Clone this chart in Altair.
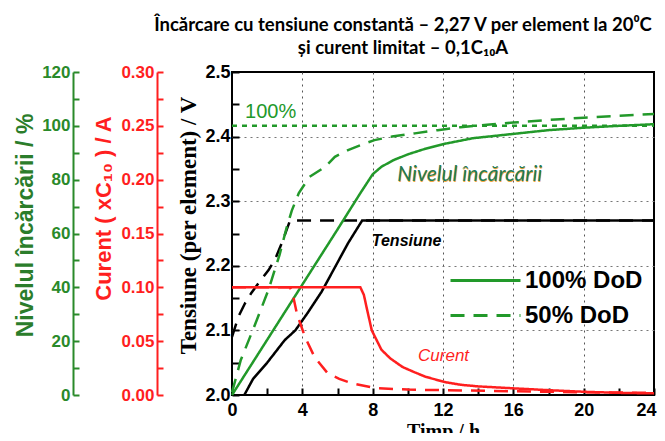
import altair as alt
import pandas as pd

# ---------------- data ----------------
# Voltage per element (V)
v100_t = [0.7, 1.2, 2.0, 3.0, 3.6, 4.3, 5.1, 5.9, 6.6, 7.4, 24]
v100_v = [2.0, 2.025, 2.05, 2.085, 2.10, 2.127, 2.16, 2.20, 2.235, 2.27, 2.27]
v50_t = [0.0, 0.36, 0.74, 1.1, 1.5, 2.07, 2.45, 2.83, 3.3, 24]
v50_v = [2.09, 2.121, 2.142, 2.158, 2.173, 2.193, 2.21, 2.235, 2.27, 2.27]

# Charge level (%)
c100_t = [0, 2, 4, 6, 7.3, 7.7, 8.0, 8.5, 9.2, 10, 11, 12, 13.7, 16, 18, 20, 22, 24]
c100_v = [0, 20.5, 41, 61.5, 75, 79, 82, 84.8, 87.3, 89.4, 91.5, 93.2, 95.4, 97, 98.4, 99.3, 100, 100.6]
c50_t = [0, 0.5, 1.3, 2.07, 2.7, 3.1, 3.4, 3.8, 4.4, 5.3, 5.85, 6.6, 7.3, 8.1, 9.1, 10.4, 11.7, 13, 14.5, 16, 18, 20, 22, 24]
c50_v = [1, 13, 26, 39, 52, 62, 68.5, 75, 81, 84.8, 88.5, 91, 92.8, 94.7, 96, 97.2, 98.4, 99.5, 100.4, 101.2, 102.2, 103, 103.7, 104.4]
full_t = [0, 24]
full_v = [100, 100]

# Current (x C10, A)
i100_t = [0, 7.3, 7.5, 7.7, 7.95, 8.5, 9.0, 9.7, 10.4, 11, 12.1, 13, 14, 16, 18, 20, 22, 24]
i100_v = [0.1, 0.1, 0.093, 0.078, 0.060, 0.042, 0.034, 0.026, 0.021, 0.017, 0.012, 0.0095, 0.008, 0.0062, 0.0045, 0.003, 0.002, 0.0015]
i50_t = [0, 3.3, 3.45, 3.7, 4.15, 4.7, 5.45, 6.1, 6.8, 8.1, 10, 12, 16, 20, 24]
i50_v = [0.1, 0.1, 0.094, 0.075, 0.054, 0.035, 0.020, 0.015, 0.011, 0.0065, 0.005, 0.0045, 0.0035, 0.0025, 0.002]

dod_labels = ["100% DoD", "50% DoD"]

# annotations (data units)
ann_volt = {"t": [7.95], "val": [2.238], "label": ["Tensiune"]}
ann_full = {"t": [0.74], "val": [105], "label": ["100%"]}
ann_charge = {"t": [9.4], "val": [81.7], "label": ["Nivelul încărcării"]}
ann_curr = {"t": [10.58], "val": [0.036], "label": ["Curent"]}

title_lines = ["Încărcare cu tensiune constantă – 2,27 V per element la 20⁰C",
               "și curent limitat – 0,1C₁₀A"]

# ---------------- styling ----------------
GREEN = "#22992a"
GREEN_TXT = "#2a8a2a"
RED = "#ff1f1f"
SANS = "'Liberation Sans', Arial, sans-serif"
SERIF = "'Liberation Serif', 'Times New Roman', serif"


def mk(ts, vs, dod):
    return pd.DataFrame({"t": ts, "val": vs, "DoD": dod})


volt_df = pd.concat([mk(v100_t, v100_v, dod_labels[0]), mk(v50_t, v50_v, dod_labels[1])])
charge_df = pd.concat([mk(c100_t, c100_v, dod_labels[0]), mk(c50_t, c50_v, dod_labels[1])])
curr_df = pd.concat([mk(i100_t, i100_v, dod_labels[0]), mk(i50_t, i50_v, dod_labels[1])])
full_df = pd.DataFrame({"t": full_t, "val": full_v})

x_enc = alt.X(
    "t:Q",
    scale=alt.Scale(domain=[0, 24], nice=False),
    axis=alt.Axis(
        title="Timp / h", orient="bottom", offset=-7, domain=False,
        values=list(range(0, 25, 2)),
        labelExpr="datum.value % 4 == 0 ? datum.label : ''",
        labelAlign={"condition": {"test": "datum.value == 24", "value": "right"}, "value": "center"},
        labelOffset={"condition": {"test": "datum.value == 24", "value": 2}, "value": 0},
        tickSize=7, tickWidth=2, tickColor="black",
        labelFont=SANS, labelFontSize=18, labelFontWeight="bold", labelColor="black",
        labelPadding=6, labelFlush=False, labelOverlap=False,
        titleFont=SERIF, titleFontSize=20, titleFontWeight="bold", titleColor="black",
        titlePadding=2,
        grid=True, gridColor="#555", gridDash=[2, 4], gridWidth=1,
        gridOpacity={"condition": {"test": "datum.value % 4 == 0 && datum.value > 0 && datum.value < 24", "value": 1}, "value": 0},
    ),
)

dash = alt.StrokeDash(
    "DoD:N",
    scale=alt.Scale(domain=dod_labels, range=[[1, 0], [14, 9]]),
    legend=alt.Legend(
        title=None, orient="none", legendX=240, legendY=195, direction="vertical",
        symbolType="M-3,0H3", symbolSize=544, symbolStrokeWidth=3,
        symbolStrokeColor=GREEN, symbolFillColor="transparent",
        labelFont=SANS, labelFontSize=24, labelFontWeight="bold", labelColor="black",
        labelOffset=26, rowPadding=9, padding=0, labelLimit=400,
    ),
)

# ---- voltage ----
yv = alt.Y(
    "val:Q",
    scale=alt.Scale(domain=[2.0, 2.5], nice=False, zero=False),
    axis=alt.Axis(
        title="Tensiune (per element) / V", orient="left", offset=-7, domain=False,
        values=[round(2.0 + 0.05 * k, 2) for k in range(11)],
        labelExpr="abs(datum.value*10 - round(datum.value*10)) < 0.001 ? format(datum.value, '.1f') : ''",
        tickSize=7, tickWidth=2, tickColor="black",
        labelFont=SANS, labelFontSize=18, labelFontWeight="bold", labelColor="black",
        labelPadding=2, labelOverlap=False,
        titleFont=SERIF, titleFontSize=23, titleFontWeight="bold", titleColor="black",
        titlePadding=4, titleY=153,
        grid=True, gridColor="#777", gridDash=[2, 4], gridWidth=1,
        gridOpacity={"condition": {"test": "abs(datum.value*10 - round(datum.value*10)) < 0.001 && datum.value > 2.01 && datum.value < 2.49", "value": 1}, "value": 0},
    ),
)
volt_lines = alt.Chart(volt_df).mark_line(color="black", strokeWidth=2.5).encode(
    x=x_enc, y=yv, strokeDash=dash)
volt_text = alt.Chart(pd.DataFrame(ann_volt)).mark_text(
    align="left", baseline="middle", font=SANS, fontSize=16, fontStyle="italic",
    fontWeight="bold", color="black").encode(x=x_enc, y=yv, text="label:N")
volt = alt.layer(volt_lines, volt_text)

# ---- charge ----
charge_scale = alt.Scale(domain=[0, 120], nice=False)
yc = alt.Y(
    "val:Q", scale=charge_scale,
    axis=alt.Axis(
        title="Nivelul încărcării / %", orient="left", offset=153, domain=False,
        values=list(range(0, 121, 10)),
        labelExpr="datum.value % 20 == 0 ? datum.label : ''",
        tickColor=GREEN_TXT, tickWidth=2, tickSize=6,
        labelFont=SANS, labelFontSize=17, labelFontWeight="bold", labelColor=GREEN_TXT,
        labelPadding=3, labelOverlap=False,
        titleFont=SANS, titleFontSize=23, titleFontWeight="bold", titleColor="#2b7d2b",
        titlePadding=4, titleY=153, grid=False,
    ),
)
yc_line = alt.Y(
    "val:Q", scale=charge_scale,
    axis=alt.Axis(
        title=None, orient="left", offset=159, labels=False, ticks=False, grid=False,
        domainColor=GREEN_TXT, domainWidth=2,
    ),
)
charge_lines = alt.Chart(charge_df).mark_line(color=GREEN, strokeWidth=2.5).encode(
    x=x_enc, y=yc, strokeDash=dash)
full_line = alt.Chart(full_df).mark_line(color=GREEN, strokeWidth=2.5, strokeDash=[5, 5]).encode(
    x=x_enc, y=yc_line)
full_text = alt.Chart(pd.DataFrame(ann_full)).mark_text(
    align="left", baseline="middle", font=SANS, fontSize=20, color=GREEN).encode(
    x=x_enc, y=yc, text="label:N")
charge_shadow = alt.Chart(pd.DataFrame(ann_charge)).mark_text(
    align="left", baseline="middle", font="Lato", fontSize=21, fontStyle="italic",
    color="#f2a640", dx=0.6, dy=0.8).encode(x=x_enc, y=yc, text="label:N")
charge_text = alt.Chart(pd.DataFrame(ann_charge)).mark_text(
    align="left", baseline="middle", font="Lato", fontSize=21, fontStyle="italic",
    color="#1f7a55").encode(x=x_enc, y=yc, text="label:N")
charge = alt.layer(
    alt.layer(charge_lines, full_text, charge_shadow, charge_text),
    full_line,
).resolve_axis(y="independent")

# ---- current ----
curr_scale = alt.Scale(domain=[0, 0.3], nice=False)
yi = alt.Y(
    "val:Q", scale=curr_scale,
    axis=alt.Axis(
        title="Curent ( xC₁₀ ) / A", orient="left", offset=69, domain=False,
        values=[round(0.025 * k, 3) for k in range(13)],
        labelExpr="abs(datum.value*20 - round(datum.value*20)) < 0.001 ? format(datum.value, '.2f') : ''",
        tickColor=RED, tickWidth=2, tickSize=6,
        labelFont=SANS, labelFontSize=17, labelFontWeight="bold", labelColor=RED,
        labelPadding=3, labelOverlap=False,
        titleFont=SANS, titleFontSize=22, titleFontWeight="bold", titleColor=RED,
        titlePadding=5, titleY=136, grid=False,
    ),
)
yi_line = alt.Y(
    "val:Q", scale=curr_scale,
    axis=alt.Axis(
        title=None, orient="left", offset=75, labels=False, ticks=False, grid=False,
        domainColor=RED, domainWidth=2,
    ),
)
curr_lines = alt.Chart(curr_df).mark_line(color=RED, strokeWidth=2.5).encode(
    x=x_enc, y=yi, strokeDash=dash)
curr_text = alt.Chart(pd.DataFrame(ann_curr)).mark_text(
    align="left", baseline="middle", font=SANS, fontSize=17, fontStyle="italic",
    color=RED).encode(x=x_enc, y=yi_line, text="label:N")
current = alt.layer(curr_lines, curr_text).resolve_axis(y="independent")

chart = (
    alt.layer(volt, charge, current)
    .resolve_scale(y="independent")
    .properties(
        width=422, height=323,
        autosize=alt.AutoSizeParams(type="none"),
        padding={"left": 224, "top": 64, "right": 3, "bottom": 38},
        title=alt.TitleParams(
            text=title_lines, font="Lato", fontSize=18.5, fontWeight="bold", color="black",
            anchor="middle", dx=-40, offset=6, lineHeight=23,
        ),
    )
    .configure_view(stroke="black", strokeWidth=2)
)

chart.save("out.html", embed_options={"renderer": "svg", "actions": False})
